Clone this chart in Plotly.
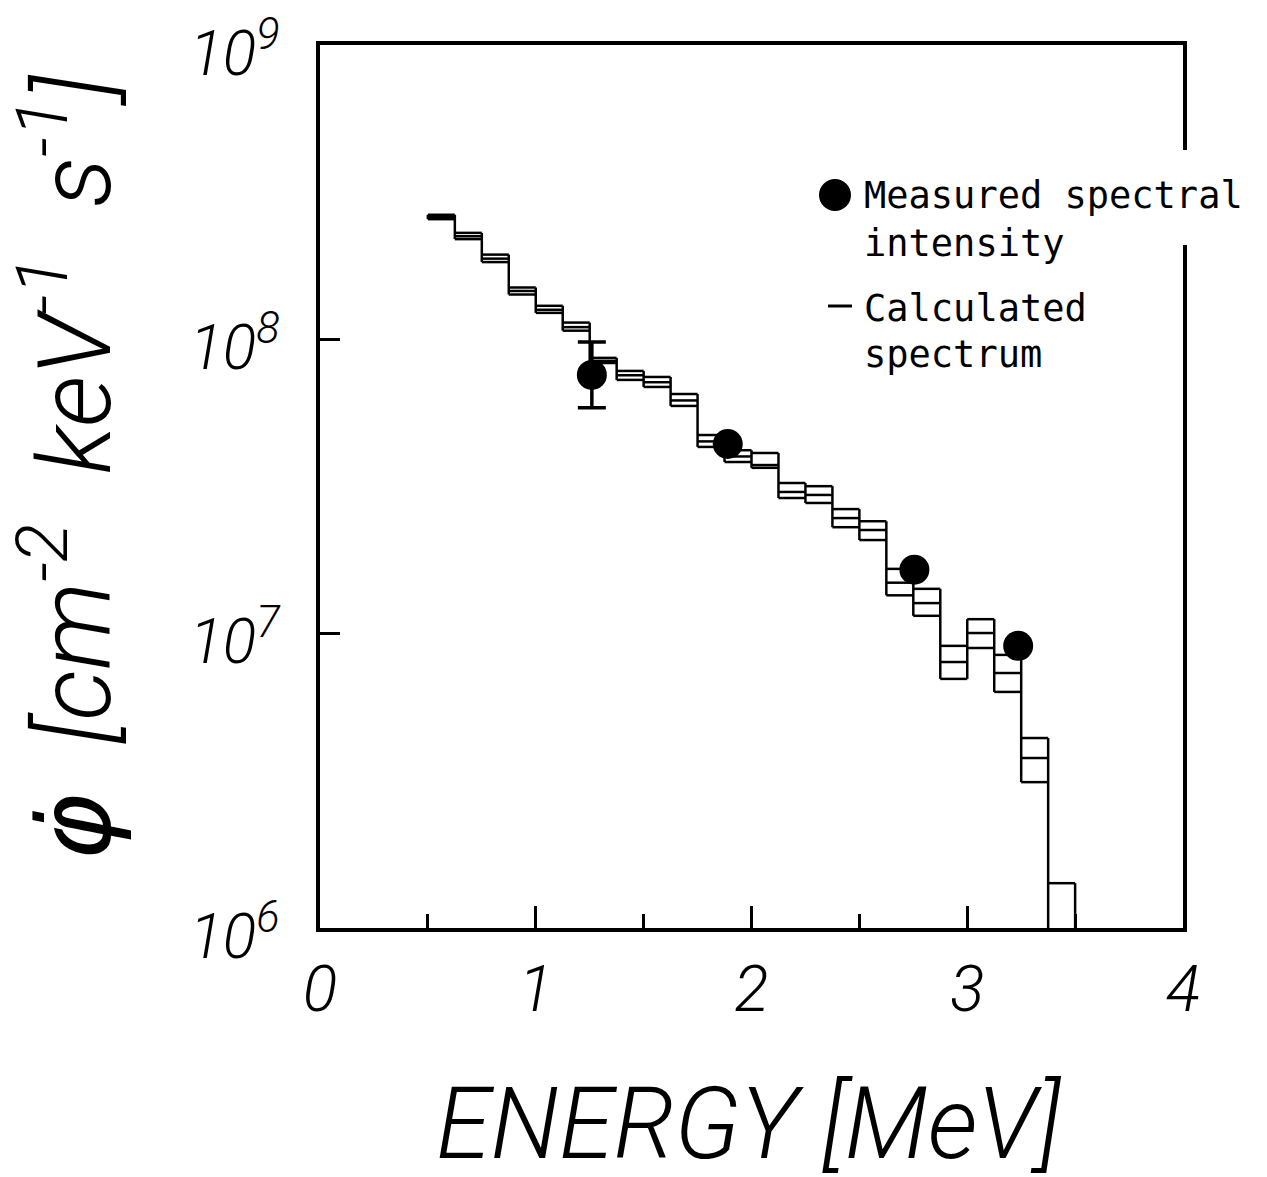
import plotly.graph_objects as go

# calculated spectrum: bin edges [MeV] and upper / central / lower values per bin
bin_edges = [0.5, 0.625, 0.75, 0.875, 1.0, 1.125, 1.25, 1.375, 1.5, 1.625, 1.75, 1.875,
             2.0, 2.125, 2.25, 2.375, 2.5, 2.625, 2.75, 2.875, 3.0, 3.125, 3.25, 3.375, 3.5]
calc_upper = [2.65e8, 2.30e8, 1.94e8, 1.50e8, 1.30e8, 1.14e8, 8.65e7, 7.81e7, 7.45e7, 6.52e7,
              4.73e7, 4.20e7, 4.11e7, 3.25e7, 3.17e7, 2.65e7, 2.41e7, 1.66e7, 1.42e7, 9.09e6,
              1.12e7, 8.47e6, 4.42e6, 1.42e6]
calc_mid = [2.60e8, 2.24e8, 1.88e8, 1.46e8, 1.26e8, 1.10e8, 8.45e7, 7.55e7, 7.15e7, 6.20e7,
            4.50e7, 4.00e7, 3.74e7, 3.03e7, 2.96e7, 2.47e7, 2.25e7, 1.49e7, 1.27e7, 8.01e6,
            1.005e7, 7.35e6, 3.78e6, 9.0e5]
calc_lower = [2.56e8, 2.19e8, 1.83e8, 1.42e8, 1.23e8, 1.07e8, 8.31e7, 7.28e7, 6.89e7, 5.94e7,
              4.31e7, 3.83e7, 3.66e7, 2.89e7, 2.78e7, 2.30e7, 2.08e7, 1.35e7, 1.15e7, 7.02e6,
              8.94e6, 6.34e6, 3.13e6, 9.0e5]

# measured spectral intensity
meas_energy = [1.26, 1.89, 2.755, 3.236]
meas_flux = [7.57e7, 4.41e7, 1.65e7, 9.09e6]
meas_err_upper = [9.8e7]
meas_err_lower = [5.85e7]

x_ticks = [0, 1, 2, 3, 4]
y_ticks = [1e6, 1e7, 1e8, 1e9]
y_tick_text = ["10<sup>6</sup>", "10<sup>7</sup>", "10<sup>8</sup>", "10<sup>9</sup>"]

THIN = dict(family="Roboto", color="black", style="italic", weight=300)
NB = "\u00a0"

# build the histogram outline: horizontal bars for each bin plus the vertical edges
hx, hy = [], []
for i in range(len(calc_mid)):
    for val in (calc_upper[i], calc_mid[i], calc_lower[i]):
        hx += [bin_edges[i], bin_edges[i + 1], None]
        hy += [val, val, None]
for k, edge in enumerate(bin_edges):
    nb = [j for j in (k - 1, k) if 0 <= j < len(calc_mid)]
    hx += [edge, edge, None]
    hy += [max(calc_upper[j] for j in nb), min(calc_lower[j] for j in nb), None]

fig = go.Figure()
fig.add_trace(go.Scatter(x=hx, y=hy, mode="lines", line=dict(color="black", width=2.5),
                         showlegend=False, hoverinfo="skip"))
fig.add_trace(go.Scatter(
    x=meas_energy[:1], y=meas_flux[:1], mode="markers", marker=dict(size=1, opacity=0),
    error_y=dict(type="data", symmetric=False,
                 array=[meas_err_upper[0] - meas_flux[0]],
                 arrayminus=[meas_flux[0] - meas_err_lower[0]],
                 color="black", thickness=3.5, width=14),
    showlegend=False))
fig.add_trace(go.Scatter(x=meas_energy, y=meas_flux, mode="markers",
                         marker=dict(size=30, color="black"), showlegend=False))

fig.update_xaxes(range=[0, 4], tickvals=x_ticks, ticks="inside", ticklen=22, tickwidth=3,
                 tickcolor="black", showline=True, linecolor="black", linewidth=4,
                 mirror=True, showgrid=False, zeroline=False, automargin=False,
                 tickfont=dict(THIN, size=64), ticklabelstandoff=2,
                 minor=dict(dtick=0.5, ticks="inside", ticklen=14, tickwidth=3,
                            tickcolor="black", showgrid=False))
fig.update_yaxes(type="log", range=[6, 9], tickvals=y_ticks, ticktext=y_tick_text,
                 ticks="inside", ticklen=20, tickwidth=3, tickcolor="black",
                 showline=True, linecolor="black", linewidth=4, mirror=True,
                 showgrid=False, zeroline=False, ticklabeloverflow="allow",
                 ticklabelshift=8, automargin=False,
                 tickfont=dict(THIN, size=62), ticklabelstandoff=24)

# page is offset by the 8 px body margin, so the plot box is placed 8 px up/left
L, T, W, H = 312, 37, 863, 883


def px(x):
    return (x - 8 - L) / W


def py(y):
    return (T + H - (y - 8)) / H


legend_font = dict(family="DejaVu Sans Mono", size=37, color="black")
for text, ypix in [("Measured spectral", 195), ("intensity", 243),
                   ("Calculated", 308), ("spectrum", 355)]:
    fig.add_annotation(x=px(862), y=py(ypix), xref="paper", yref="paper", text=text,
                       showarrow=False, xanchor="left", yanchor="middle", font=legend_font)

fig.add_annotation(x=px(748), y=py(1124), xref="paper", yref="paper", text="ENERGY [MeV]",
                   showarrow=False, xanchor="center", yanchor="middle",
                   font=dict(THIN, size=99))
fig.add_annotation(x=px(68), y=py(468), xref="paper", yref="paper",
                   text="<span style='font-family:DejaVu Sans'>\u03c6\u0307</span>"
                        + NB * 2 + "[cm<sup>-2</sup>" + NB * 2 + "keV<sup>-1</sup>"
                        + NB * 2 + "s<sup>-1</sup>]",
                   textangle=-90, showarrow=False, xanchor="center", yanchor="middle",
                   font=dict(THIN, size=102))

fig.add_shape(type="rect", xref="paper", yref="paper", x0=px(1165), x1=px(1200),
              y0=py(245), y1=py(150), fillcolor="white", line_width=0, layer="above")
fig.add_shape(type="circle", xref="paper", yref="paper", xsizemode="pixel",
              ysizemode="pixel", xanchor=px(835), yanchor=py(195),
              x0=-15, x1=15, y0=-15, y1=15, fillcolor="black", line_color="black")
fig.add_shape(type="line", xref="paper", yref="paper", x0=px(828), x1=px(852),
              y0=py(306), y1=py(306), line=dict(color="black", width=3))

fig.update_layout(width=L + W + 84, height=T + H + 249, plot_bgcolor="white",
                  paper_bgcolor="white", margin=dict(l=L, r=84, t=T, b=249))

fig.write_html("out.html")
